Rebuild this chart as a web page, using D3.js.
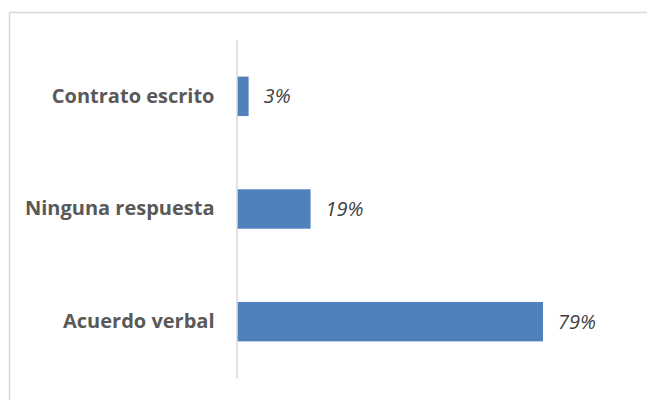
<!DOCTYPE html>
<html>
<head>
<meta charset="utf-8">
<script src="https://cdn.jsdelivr.net/npm/d3@7"></script>
<style>
  html, body { margin: 0; padding: 0; background: #fff; }
  svg { display: block; }
</style>
</head>
<body>
<svg id="chart" width="647" height="400"></svg>
<script>
const categories = ["Contrato escrito", "Ninguna respuesta", "Acuerdo verbal"];
const values = [3, 19, 79];
const valueLabels = ["3%", "19%", "79%"];

const svg = d3.select("#chart");
const W = 647, H = 400;

// outer chart border (only top/left visible)
svg.append("rect")
  .attr("x", 9.5).attr("y", 12.5)
  .attr("width", W + 20).attr("height", H + 20)
  .attr("fill", "#fff")
  .attr("stroke", "#d9d9d9")
  .attr("stroke-width", 1.5);

const x = d3.scaleLinear().domain([0, 100]).range([237, 624.3]);
const y = d3.scaleBand().domain(categories).range([40, 378]).paddingInner(0.65).paddingOuter(0.325);

// bars
svg.selectAll("rect.bar").data(categories).join("rect")
  .attr("class", "bar")
  .attr("x", x(0))
  .attr("y", d => y(d))
  .attr("width", (d, i) => x(values[i]) - x(0))
  .attr("height", y.bandwidth())
  .attr("fill", "#4f81bd");

// axis line
const yAxis = d3.axisLeft(y).tickSize(0).tickPadding(22);
const g = svg.append("g").attr("transform", `translate(${x(0) - 0.5},0)`).call(yAxis);
g.select(".domain").attr("stroke", "#d9d9d9").attr("stroke-width", 1.5);
g.selectAll(".tick text")
  .attr("font-family", "'Open Sans', sans-serif")
  .attr("font-weight", 700)
  .attr("font-size", 20)
  .attr("fill", "#595959");

// value labels
svg.selectAll("text.val").data(categories).join("text")
  .attr("class", "val")
  .attr("x", (d, i) => x(values[i]) + 15)
  .attr("y", d => y(d) + y.bandwidth() / 2)
  .attr("dy", "0.35em")
  .attr("font-family", "'Open Sans', sans-serif")
  .attr("font-style", "italic")
  .attr("font-size", 20)
  .attr("fill", "#404040")
  .text((d, i) => valueLabels[i]);
</script>
</body>
</html>
